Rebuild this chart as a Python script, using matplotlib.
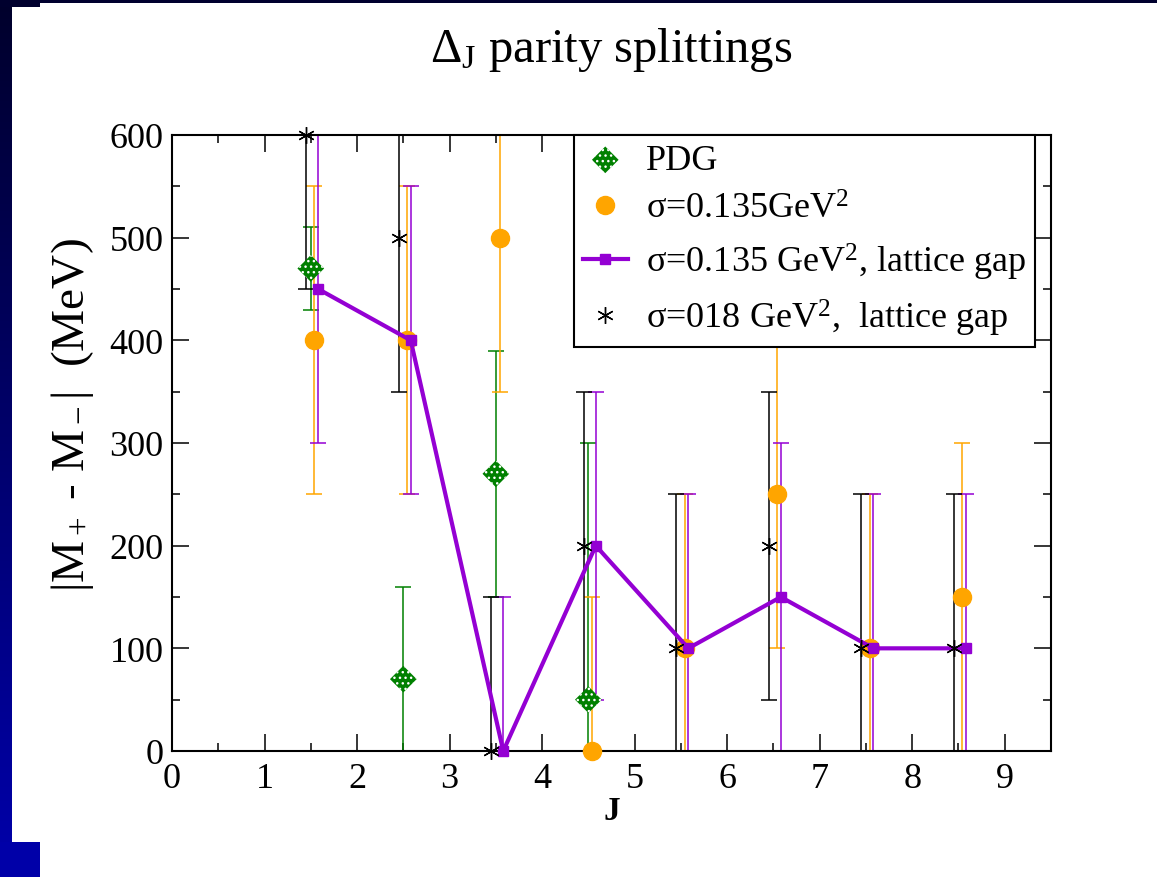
import numpy as np
import matplotlib
matplotlib.use("Agg")
import matplotlib.pyplot as plt
from matplotlib.patches import Rectangle

plt.rcParams['font.family'] = ['Liberation Serif', 'DejaVu Serif']
plt.rcParams['mathtext.fontset'] = 'custom'
plt.rcParams['mathtext.rm'] = 'Liberation Serif'
plt.rcParams['mathtext.it'] = 'Liberation Serif:italic'
plt.rcParams['mathtext.bf'] = 'Liberation Serif:bold'
plt.rcParams['hatch.color'] = 'white'
plt.rcParams['hatch.linewidth'] = 1.0

# spin J of each parity pair
J = np.array([1.5, 2.5, 3.5, 4.5, 5.5, 6.5, 7.5, 8.5])

# PDG splittings (MeV)
J_pdg = np.array([1.5, 2.5, 3.5, 4.5])
pdg = [470, 70, 270, 50]
pdg_err = [40, 90, 120, 250]

# model, sigma = 0.135 GeV^2
sig135 = [400, 400, 500, 0, 100, 250, 100, 150]
sig135_err = [150] * 8

# sigma = 0.135 GeV^2 with lattice gap
lat135 = [450, 400, 0, 200, 100, 150, 100, 100]
lat135_err = [150] * 8

# sigma = 0.18 GeV^2 with lattice gap
lat18 = [600, 500, 0, 200, 100, 200, 100, 100]
lat18_err = [150] * 8

green = '#008000'
orange = '#FFA500'
purple = '#9400D3'

fig = plt.figure(figsize=(11.57, 8.78), dpi=100)

# slide background strips
bg = fig.add_axes([0, 0, 1, 1], zorder=-5)
bg.set_xlim(0, 1157)
bg.set_ylim(878, 0)
bg.axis('off')
grad = np.linspace(0.17, 0.67, 256).reshape(-1, 1)
rgb = np.zeros((256, 1, 3))
rgb[..., 2] = grad
bg.imshow(rgb, extent=[0, 12, 878, 0], aspect='auto', interpolation='bilinear')
bg.add_patch(Rectangle((0, 0), 1157, 4, color='#00002e', lw=0))
bg.add_patch(Rectangle((0, 0), 40, 8, color='#00002e', lw=0))
bg.add_patch(Rectangle((0, 843), 40, 35, color='#0000a8', lw=0))

ax = fig.add_axes([172 / 1157, 1 - 752 / 878, 879 / 1157, 616 / 878])

ebkw = dict(fmt='none', elinewidth=1.1, capsize=5.8, capthick=1.1)

ax.errorbar(J_pdg, pdg, yerr=pdg_err, ecolor=green, **ebkw)
ax.errorbar(J + 0.04, sig135, yerr=sig135_err, ecolor=orange, **ebkw)
ax.errorbar(J + 0.08, lat135, yerr=lat135_err, ecolor=purple, **ebkw)
ax.errorbar(J - 0.05, lat18, yerr=lat18_err, ecolor='black', **ebkw)

ax.scatter(J_pdg, pdg, marker='D', s=185, facecolor=green, edgecolors='face',
           hatch='...', linewidths=0, zorder=4, clip_on=False, label='PDG')
ax.plot(J + 0.04, sig135, 'o', color=orange, ms=13, zorder=4, clip_on=False,
        label=r'σ=0.135GeV$^2$')
ax.plot(J + 0.08, lat135, '-s', color=purple, lw=3, ms=7.5, zorder=5, clip_on=False,
        label=r'σ=0.135 GeV$^2$, lattice gap')
ax.plot(J - 0.05, lat18, ls='none', marker=(6, 2, 0), color='black', ms=12, mew=1.0,
        zorder=6, clip_on=False, label=r'σ=018 GeV$^2$,  lattice gap')

ax.set_xlim(0, 9.5)
ax.set_ylim(0, 600)
ax.set_xticks(np.arange(0, 10, 1))
ax.set_xticks(np.arange(0.5, 9.6, 1), minor=True)
ax.set_yticks(np.arange(0, 601, 100))
ax.set_yticks(np.arange(50, 600, 100), minor=True)
ax.tick_params(which='both', direction='in', top=True, right=True, labelsize=26)
ax.tick_params(which='major', length=12, width=1.1)
ax.tick_params(which='minor', length=6, width=1.1)
ax.tick_params(axis='x', pad=8)
ax.tick_params(axis='y', pad=6)
for s in ax.spines.values():
    s.set_linewidth(1.5)

ax.set_title(r'Δ$_\mathrm{J}$ parity splittings', fontsize=35, pad=53)
ax.set_xlabel('J', fontsize=24, fontweight='bold', labelpad=0)
ax.set_ylabel(r'|M$_+$ - M$_-$|  (MeV)', fontsize=34)
ax.yaxis.set_label_coords(-0.086, 0.547)

leg = ax.legend(loc='upper right', bbox_to_anchor=(0.982, 1.0), borderaxespad=0,
                fontsize=26, fancybox=False, framealpha=1, edgecolor='black',
                handlelength=1.25, handletextpad=0.5, borderpad=0.25,
                labelspacing=0.42, scatterpoints=1)
leg.get_frame().set_linewidth(1.5)

fig.savefig('out.png', dpi=100)
